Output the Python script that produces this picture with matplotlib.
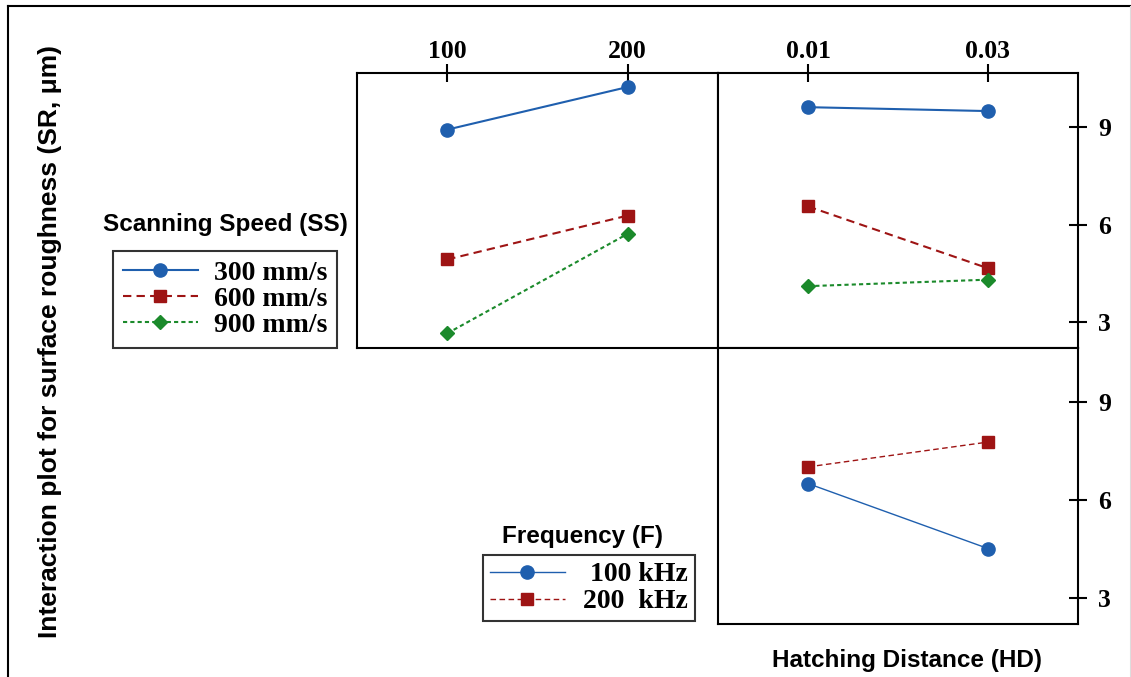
import matplotlib
matplotlib.use("Agg")
import matplotlib.pyplot as plt
from matplotlib.lines import Line2D

# ---- data ----
freq_levels = [100, 200]
hd_levels = [0.01, 0.03]
ss_labels = ["300 mm/s", "600 mm/s", "900 mm/s"]
f_labels = [" 100 kHz", "200  kHz"]

# Scanning speed x Frequency (top-left)
ss_by_freq_300 = [8.92, 10.23]
ss_by_freq_600 = [4.93, 6.28]
ss_by_freq_900 = [2.66, 5.72]

# Scanning speed x Hatching distance (top-right)
ss_by_hd_300 = [9.61, 9.49]
ss_by_hd_600 = [6.56, 4.66]
ss_by_hd_900 = [4.11, 4.31]

# Frequency x Hatching distance (bottom-right)
f_by_hd_100 = [6.51, 4.52]
f_by_hd_200 = [7.02, 7.78]

y_ticks = [3, 6, 9]

# ---- style ----
BLUE = "#1f5fae"
RED = "#9e1414"
GREEN = "#1b8a2b"
SANS = "Liberation Sans"
SERIF = "Liberation Serif"

W, H = 1131, 677
fig = plt.figure(figsize=(W / 100, H / 100), dpi=100)

def fr(x0, y0, x1, y1):
    return [x0 / W, 1 - y1 / H, (x1 - x0) / W, (y1 - y0) / H]

ax1 = fig.add_axes(fr(357, 73, 718, 348))
ax2 = fig.add_axes(fr(718, 73, 1078, 348))
ax3 = fig.add_axes(fr(718, 348, 1078, 624))

ylim = (2.21, 10.66)

series_styles = [
    dict(color=BLUE, marker="o", markersize=9.5, linestyle="-"),
    dict(color=RED, marker="s", markersize=8.5, linestyle=(0, (4, 2.5))),
    dict(color=GREEN, marker="D", markersize=7.5, linestyle=(0, (2, 1.5))),
]

for ys, st in zip([ss_by_freq_300, ss_by_freq_600, ss_by_freq_900], series_styles):
    ax1.plot(freq_levels, ys, lw=1.5, **st)
for ys, st in zip([ss_by_hd_300, ss_by_hd_600, ss_by_hd_900], series_styles):
    ax2.plot(hd_levels, ys, lw=1.5, **st)
for ys, st in zip([f_by_hd_100, f_by_hd_200], series_styles[:2]):
    ax3.plot(hd_levels, ys, lw=1.0, **st)

ax1.set_xlim(50, 250)
ax2.set_xlim(0.0, 0.04)
ax3.set_xlim(0.0, 0.04)

tick_font = dict(family=SERIF, weight="bold", size=18.5)

for ax in (ax1, ax2, ax3):
    ax.set_ylim(*ylim)
    for sp in ax.spines.values():
        sp.set_linewidth(1.5)
        sp.set_color("black")
    ax.tick_params(length=0)
    ax.set_xticks([])
    ax.set_yticks([])

# top x ticks
ax1.set_xticks(freq_levels)
ax1.set_xticklabels([str(v) for v in freq_levels], fontdict=tick_font)
ax2.set_xticks(hd_levels)
ax2.set_xticklabels(["0.01", "0.03"], fontdict=tick_font)
for ax in (ax1, ax2):
    ax.xaxis.tick_top()
    ax.tick_params(axis="x", direction="inout", length=13, width=1.5, pad=1,
                   top=True, bottom=False)

# right y ticks
for ax in (ax2, ax3):
    ax.set_yticks(y_ticks)
    ax.set_yticklabels([str(v) for v in y_ticks], fontdict=tick_font)
    ax.yaxis.tick_right()
    ax.tick_params(axis="y", direction="inout", length=13, width=1.5, pad=8,
                   right=True, left=False)

# legends
leg_font = dict(family=SERIF, weight="bold", size=20)
h1 = [Line2D([], [], lw=1.5, **st) for st in series_styles]
leg1 = fig.legend(h1, ss_labels, loc="upper left",
                  bbox_to_anchor=(113 / W, 1 - 251 / H),
                  bbox_transform=fig.transFigure, prop=leg_font,
                  frameon=True, fancybox=False, edgecolor="black",
                  handlelength=2.7, handletextpad=0.6, labelspacing=0.02,
                  borderpad=0.35, borderaxespad=0)
leg1.get_frame().set_linewidth(1.5)

h2 = [Line2D([], [], lw=1.0, **st) for st in series_styles[:2]]
leg2 = fig.legend(h2, f_labels, loc="upper left",
                  bbox_to_anchor=(483 / W, 1 - 555 / H),
                  bbox_transform=fig.transFigure, prop=leg_font,
                  frameon=True, fancybox=False, edgecolor="black",
                  handlelength=2.7, handletextpad=0.65, labelspacing=0.05,
                  borderpad=0.25, borderaxespad=0)
leg2.get_frame().set_linewidth(1.5)

label_font = dict(family=SANS, weight="bold", size=17.5)
fig.text(225 / W, 1 - 224 / H, "Scanning Speed (SS)", ha="center", va="center", **label_font)
fig.text(582 / W, 1 - 537 / H, "Frequency (F)", ha="center", va="center", **label_font)
fig.text(907 / W, 1 - 660 / H, "Hatching Distance (HD)", ha="center", va="center", **label_font)
fig.text(50 / W, 1 - 341 / H, "Interaction plot for surface roughness (SR, μm)",
         ha="center", va="center", rotation=90, family=SANS, weight="bold", size=19)

# outer frame (top and left edges)
fig.add_artist(Line2D([7.5 / W, 1.0], [1 - 5.5 / H, 1 - 5.5 / H],
                      transform=fig.transFigure, color="black", lw=1.5))
fig.add_artist(Line2D([7.5 / W, 7.5 / W], [0.0, 1 - 5.5 / H],
                      transform=fig.transFigure, color="black", lw=1.5))
fig.add_artist(Line2D([1129.5 / W, 1129.5 / W], [0.0, 1 - 5.5 / H],
                      transform=fig.transFigure, color="#dddddd", lw=0.8))

fig.savefig("out.png", dpi=100)
